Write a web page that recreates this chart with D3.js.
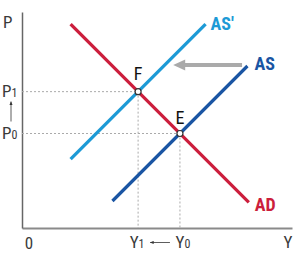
<!DOCTYPE html>
<html><head><meta charset="utf-8">
<script src="https://cdn.jsdelivr.net/npm/d3@7"></script>
<style>body{margin:0;background:#fff}svg{display:block}</style>
</head><body>
<script>
// Data (economic units)
const curveNames = ["AD", "AS'", "AS"];
const adLine = [[1.8, 7.55], [8.4, 0.95]];
const asPrimeLine = [[1.8, 2.55], [6.8, 7.55]];
const asLine = [[3.35, 1.0], [8.35, 6.0]];
const equilibriumNames = ["F", "E"];
const equilibriumPoints = [[4.3, 5.05], [5.85, 3.5]];
const shiftArrow = [[8.15, 6.04], [5.6, 6.04]];
const yTickLabels = [["P", "1"], ["P", "0"]];
const xTickLabels = [["Y", "1"], ["Y", "0"]];

const W = 300, H = 277;
const x = d3.scaleLinear().domain([0, 10]).range([22, 292]);
const y = d3.scaleLinear().domain([0, 8]).range([228, 12]);

const svg = d3.select("body").append("svg").attr("width", W).attr("height", H);
const font = "'Liberation Sans Narrow','Roboto Condensed','Liberation Sans',Arial,sans-serif";

const defs = svg.append("defs");
defs.append("marker").attr("id","small").attr("viewBox","0 0 10 10").attr("refX",9).attr("refY",5)
  .attr("markerWidth",5).attr("markerHeight",5).attr("orient","auto")
  .append("path").attr("d","M0,1 L10,5 L0,9 Z").attr("fill","#333");

// axes
const xAxis = d3.axisBottom(x).tickValues([]).tickSize(0).tickSizeOuter(0);
const yAxis = d3.axisLeft(y).tickValues([]).tickSize(0).tickSizeOuter(0);
svg.append("g").attr("transform",`translate(0,${y(0)})`).call(xAxis)
  .select(".domain").attr("stroke","#8a8a8a").attr("stroke-width",2);
svg.append("g").attr("transform",`translate(${x(0)},0)`).call(yAxis)
  .select(".domain").attr("stroke","#666").attr("stroke-width",1.5);

// dashed guides
const guides = svg.append("g").attr("stroke","#aaa").attr("stroke-width",1).attr("stroke-dasharray","2,2").attr("fill","none");
equilibriumPoints.forEach(p => {
  guides.append("line").attr("x1",x(0)).attr("x2",x(p[0])).attr("y1",y(p[1])).attr("y2",y(p[1]));
  guides.append("line").attr("x1",x(p[0])).attr("x2",x(p[0])).attr("y1",y(p[1])).attr("y2",y(0));
});

// curves
const line = d3.line().x(d => x(d[0])).y(d => y(d[1]));
const curves = [adLine, asPrimeLine, asLine];
const colors = ["#cc1e3c", "#1d9ad6", "#1a55a3"];
curves.forEach((c,i) => {
  svg.append("path").attr("d", line(c)).attr("stroke", colors[i]).attr("stroke-width", 3.2).attr("fill","none");
});

// shift arrow
const ax1 = x(shiftArrow[0][0]), ax2 = x(shiftArrow[1][0]), ay = y(shiftArrow[0][1]);
svg.append("line").attr("x1",ax1).attr("x2",ax2+10).attr("y1",ay).attr("y2",ay).attr("stroke","#aaa").attr("stroke-width",4);
svg.append("path").attr("d",`M${ax2},${ay} L${ax2+12},${ay-5.5} L${ax2+12},${ay+5.5} Z`).attr("fill","#aaa");

// equilibrium points
equilibriumPoints.forEach((p,i) => {
  svg.append("circle").attr("cx",x(p[0])).attr("cy",y(p[1])).attr("r",3).attr("fill","#fff").attr("stroke","#333").attr("stroke-width",1.2);
  svg.append("text").attr("x",x(p[0])).attr("y",y(p[1])-(i===0 ? 12 : 10)).attr("text-anchor","middle")
    .attr("font-family",font).attr("font-size",18).attr("fill","#111").text(equilibriumNames[i]);
});

// curve labels
const labelPos = [[adLine[1], 6, 9], [asPrimeLine[1], 5, 6], [asLine[1], 7, 4]];
labelPos.forEach((l,i) => {
  svg.append("text").attr("x", x(l[0][0]) + l[1]).attr("y", y(l[0][1]) + l[2])
    .attr("font-family",font).attr("font-size",18).attr("font-weight","bold").attr("fill",colors[i]).text(curveNames[i]);
});

// axis labels
const lab = (tx, ty, main, sub, anchor) => {
  const t = svg.append("text").attr("x",tx).attr("y",ty).attr("text-anchor",anchor||"start")
    .attr("font-family",font).attr("font-size",17).attr("fill","#3a3a3a");
  t.append("tspan").text(main);
  if (sub) t.append("tspan").attr("font-size",12).text(sub);
  return t;
};
lab(3, 28, "P");
equilibriumPoints.forEach((p,i) => lab(2, y(p[1]) + 5, yTickLabels[i][0], yTickLabels[i][1]));
lab(x(10) - 4, y(0) + 20, "Y", null, "middle");
lab(x(0) + 7, y(0) + 21, "0", null, "middle");
equilibriumPoints.forEach((p,i) => lab(x(p[0]) + (i===0 ? -1 : 3), y(0) + 20, xTickLabels[i][0], xTickLabels[i][1], "middle"));

// small arrows
svg.append("line").attr("x1",11).attr("x2",11).attr("y1",y(equilibriumPoints[1][1])-12).attr("y2",y(equilibriumPoints[0][1])+10)
  .attr("stroke","#333").attr("stroke-width",0.8).attr("marker-end","url(#small)");
svg.append("line").attr("x1",x(equilibriumPoints[1][0])-10).attr("x2",x(equilibriumPoints[0][0])+12).attr("y1",y(0)+14.5).attr("y2",y(0)+14.5)
  .attr("stroke","#333").attr("stroke-width",0.8).attr("marker-end","url(#small)");
</script>
</body></html>
